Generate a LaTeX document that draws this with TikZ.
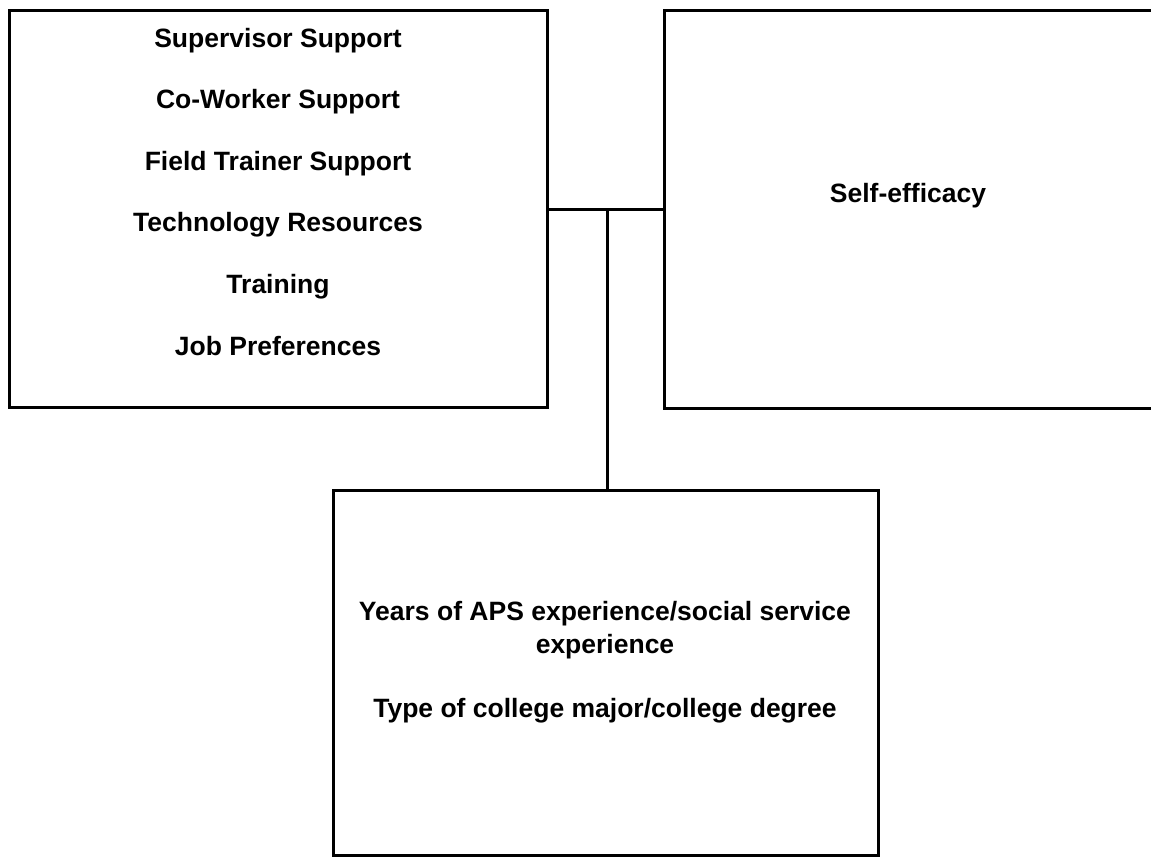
\documentclass[tikz,border=0pt]{standalone}
\usepackage{fontspec}
\setmainfont{Liberation Sans}
\begin{document}
\begin{tikzpicture}[x=1pt,y=-1pt,
  box/.style={draw=black,line width=3pt,fill=white,inner sep=0pt},
  conn/.style={draw=black,line width=3pt},
  lbl/.style={inner sep=0pt,font=\fontsize{26.5}{31}\selectfont\bfseries,text height=19pt,text depth=5.5pt}]
\useasboundingbox (0,0) rectangle (1151,857);
\fill[white] (0,0) rectangle (1151,857);
% boxes
\node[box,minimum width=538pt,minimum height=397pt] (L) at (278,208.5) {};
\node[box,minimum width=496pt,minimum height=398pt] (R) at (912,209) {};
\node[box,minimum width=545pt,minimum height=365pt] (B) at (605.5,672.5) {};
% connectors
\coordinate (J) at (607,209);
\draw[conn] (L.east |- J) -- (R.west |- J);
\draw[conn] (J) -- (J |- B.north);
% left box texts
\node[lbl] (t1) at (278,40.5) {Supervisor Support};
\node[lbl] (t2) at (278,102) {Co-Worker Support};
\node[lbl] (t3) at (278,163.5) {Field Trainer Support};
\node[lbl] (t4) at (278,225) {Technology Resources};
\node[lbl] (t5) at (278,287) {Training};
\node[lbl] (t6) at (278,348.5) {Job Preferences};
% right box text
\node[lbl] (s1) at (908,195.5) {Self-efficacy};
% bottom box texts
\node[lbl] (b1) at (605,613.5) {Years of APS experience/social service};
\node[lbl] (b2) at (605,646.5) {experience};
\node[lbl] (b3) at (605,710.5) {Type of college major/college degree};
\end{tikzpicture}
\end{document}
